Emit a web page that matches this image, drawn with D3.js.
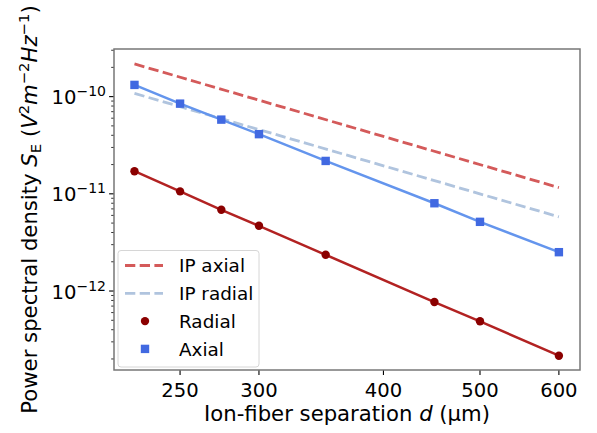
<!DOCTYPE html>
<html>
<head>
<meta charset="utf-8">
<script src="https://cdn.jsdelivr.net/npm/d3@7"></script>
<style>
  body { margin: 0; background: #fff; }
  text { font-family: "DejaVu Sans", sans-serif; fill: #000; }
</style>
</head>
<body>
<div id="chart"></div>
<script>
// separations in um
const dVals = [225, 250, 275, 300, 350, 450, 500, 600];
// measured PSD values
const radialVals = [1.71e-11, 1.06e-11, 6.85e-12, 4.69e-12, 2.36e-12, 7.7e-13, 4.88e-13, 2.16e-13];
const axialVals = [1.32e-10, 8.47e-11, 5.8e-11, 4.11e-11, 2.18e-11, 8.0e-12, 5.15e-12, 2.51e-12];
// ion-pulling predictions (endpoints of straight log-log lines)
const ipD = [225, 600];
const ipAxialVals = [2.17e-10, 1.16e-11];
const ipRadialVals = [1.08e-10, 5.8e-12];
// tick labels
const xTicks = [250, 300, 400, 500, 600];
const yTicks = [1e-10, 1e-11, 1e-12];

const W = 597, H = 433;
const mLeft = 114, mRight = 580, mTop = 49, mBottom = 370;
const tickFont = "19.6px", labelFont = "21.2px", legendFont = "18.4px", supFont = "14px";

const svg = d3.select("#chart").append("svg")
    .attr("width", W).attr("height", H);

const x = d3.scaleLog().domain([214.6, 630]).range([mLeft, mRight]);
const y = d3.scaleLog().domain([1.54e-13, 3.09e-10]).range([mBottom, mTop]);

// minor y ticks
let minor = [];
for (let e = -13; e <= -10; e++) {
    for (let m = 2; m <= 9; m++) {
        let v = m * Math.pow(10, e);
        if (v >= y.domain()[0] && v <= y.domain()[1]) minor.push(v);
    }
}
svg.append("g").selectAll("line").data(minor).join("line")
    .attr("x1", mLeft).attr("x2", mLeft - 2.8)
    .attr("y1", d => y(d)).attr("y2", d => y(d))
    .attr("stroke", "#000").attr("stroke-width", 0.8);

// major y ticks
let yg = svg.append("g");
yg.selectAll("line").data(yTicks).join("line")
    .attr("x1", mLeft).attr("x2", mLeft - 4.9)
    .attr("y1", d => y(d)).attr("y2", d => y(d))
    .attr("stroke", "#000").attr("stroke-width", 1.1);
let yl = yg.selectAll("text").data(yTicks).join("text")
    .attr("x", mLeft - 8).attr("y", d => y(d) + 7.6)
    .attr("text-anchor", "end")
    .style("font-size", tickFont);
yl.append("tspan").text("10");
yl.append("tspan").attr("dy", -8).style("font-size", supFont)
    .text(d => "\u2212" + Math.round(-Math.log10(d)));

// x ticks
let xg = svg.append("g");
xg.selectAll("line").data(xTicks).join("line")
    .attr("x1", d => x(d)).attr("x2", d => x(d))
    .attr("y1", mBottom).attr("y2", mBottom + 4.9)
    .attr("stroke", "#000").attr("stroke-width", 1.1);
xg.selectAll("text").data(xTicks).join("text")
    .attr("x", d => x(d)).attr("y", mBottom + 26.7)
    .attr("text-anchor", "middle")
    .style("font-size", tickFont)
    .text(d => d);

// lines
const line = (xs) => d3.line().x((d, i) => x(xs[i])).y(d => y(d));

svg.append("path").datum(ipAxialVals)
    .attr("d", line(ipD)).attr("fill", "none")
    .attr("stroke", "#d45a5a").attr("stroke-width", 2.8)
    .attr("stroke-dasharray", "10.3,4.4");
svg.append("path").datum(ipRadialVals)
    .attr("d", line(ipD)).attr("fill", "none")
    .attr("stroke", "#b0c4de").attr("stroke-width", 2.8)
    .attr("stroke-dasharray", "10.3,4.4");

svg.append("path").datum(radialVals)
    .attr("d", line(dVals)).attr("fill", "none")
    .attr("stroke", "#b22222").attr("stroke-width", 2.5);
svg.append("path").datum(axialVals)
    .attr("d", line(dVals)).attr("fill", "none")
    .attr("stroke", "#6495ed").attr("stroke-width", 2.5);

svg.append("g").selectAll("circle").data(radialVals).join("circle")
    .attr("cx", (d, i) => x(dVals[i])).attr("cy", d => y(d))
    .attr("r", 4.2).attr("fill", "#8b0000");
svg.append("g").selectAll("rect").data(axialVals).join("rect")
    .attr("x", (d, i) => x(dVals[i]) - 4.2).attr("y", d => y(d) - 4.2)
    .attr("width", 8.4).attr("height", 8.4).attr("fill", "#4169e1");

// frame
svg.append("rect")
    .attr("x", mLeft).attr("y", mTop)
    .attr("width", mRight - mLeft).attr("height", mBottom - mTop)
    .attr("fill", "none").attr("stroke", "#777").attr("stroke-width", 1.5);

// legend
let lg = svg.append("g");
lg.append("rect")
    .attr("x", 118).attr("y", 250.5).attr("width", 141).attr("height", 116.5)
    .attr("rx", 3).attr("fill", "rgba(255,255,255,0.8)")
    .attr("stroke", "#d6d6d6").attr("stroke-width", 1);
const legendItems = [
    {label: "IP axial", type: "dash", color: "#d45a5a"},
    {label: "IP radial", type: "dash", color: "#b0c4de"},
    {label: "Radial", type: "circle", color: "#8b0000"},
    {label: "Axial", type: "square", color: "#4169e1"}
];
legendItems.forEach((it, i) => {
    let cy = 265.5 + i * 27.8;
    if (it.type === "dash") {
        lg.append("line").attr("x1", 125).attr("x2", 163)
            .attr("y1", cy).attr("y2", cy)
            .attr("stroke", it.color).attr("stroke-width", 2.8)
            .attr("stroke-dasharray", "10.3,4.4");
    } else if (it.type === "circle") {
        lg.append("circle").attr("cx", 145).attr("cy", cy).attr("r", 4.2).attr("fill", it.color);
    } else {
        lg.append("rect").attr("x", 145 - 4.2).attr("y", cy - 4.2)
            .attr("width", 8.4).attr("height", 8.4).attr("fill", it.color);
    }
    lg.append("text").attr("x", 179).attr("y", cy + 6.8)
        .style("font-size", legendFont).text(it.label);
});

// axis labels
let xl = svg.append("text")
    .attr("x", (mLeft + mRight) / 2).attr("y", 421)
    .attr("text-anchor", "middle").style("font-size", labelFont);
xl.append("tspan").text("Ion-fiber separation ");
xl.append("tspan").style("font-style", "italic").text("d");
xl.append("tspan").text(" (\u03bcm)");

let ylab = svg.append("text")
    .attr("transform", "translate(37," + ((mTop + mBottom) / 2) + ") rotate(-90)")
    .attr("text-anchor", "middle").style("font-size", labelFont);
ylab.append("tspan").text("Power spectral density ");
ylab.append("tspan").style("font-style", "italic").text("S");
ylab.append("tspan").attr("dy", 4).style("font-size", "14.8px").text("E");
ylab.append("tspan").attr("dy", -4).text(" (");
ylab.append("tspan").style("font-style", "italic").text("V");
ylab.append("tspan").attr("dy", -8).style("font-size", "14.8px").text("2");
ylab.append("tspan").attr("dy", 8).style("font-style", "italic").text("m");
ylab.append("tspan").attr("dy", -8).style("font-size", "14.8px").text("\u22122");
ylab.append("tspan").attr("dy", 8).style("font-style", "italic").text("Hz");
ylab.append("tspan").attr("dy", -8).style("font-size", "14.8px").text("\u22121");
ylab.append("tspan").attr("dy", 8).text(")");
</script>
</body>
</html>
